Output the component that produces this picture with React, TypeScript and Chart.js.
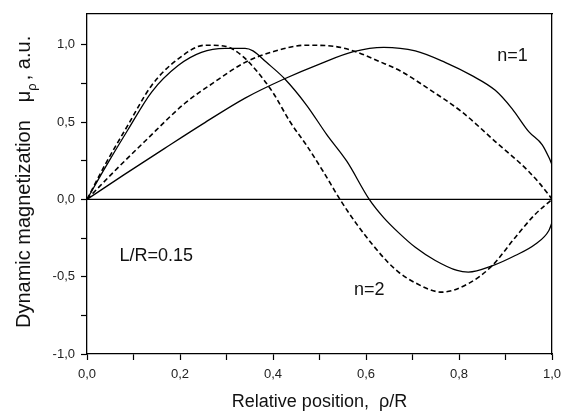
import { useEffect, useRef } from 'react';
import { Chart, registerables } from 'chart.js';
Chart.register(...registerables);

// n=1, solid
const n1SolidX = [0, 0.08, 0.167, 0.25, 0.34, 0.425, 0.5, 0.573, 0.638, 0.706, 0.77, 0.828, 0.878, 0.914, 0.95, 0.979, 0.994, 1.0];
const n1SolidY = [0, 0.16, 0.33, 0.49, 0.655, 0.78, 0.875, 0.955, 0.983, 0.96, 0.886, 0.8, 0.705, 0.587, 0.438, 0.353, 0.267, 0.224];
// n=1, dashed
const n1DashX = [0, 0.06, 0.124, 0.21, 0.27, 0.34, 0.4, 0.472, 0.53, 0.573, 0.63, 0.674, 0.734, 0.806, 0.878, 0.95, 0.993, 1.0];
const n1DashY = [0, 0.185, 0.374, 0.62, 0.75, 0.886, 0.955, 0.997, 0.99, 0.96, 0.89, 0.83, 0.716, 0.566, 0.374, 0.18, 0.03, 0];
// n=2, dashed
const n2DashX = [0, 0.04, 0.088, 0.139, 0.196, 0.254, 0.297, 0.333, 0.365, 0.4, 0.437, 0.472, 0.508, 0.544, 0.58, 0.616, 0.645, 0.67, 0.706, 0.763, 0.82, 0.871, 0.921, 0.964, 1.0];
const n2DashY = [0, 0.23, 0.48, 0.737, 0.908, 0.997, 0.99, 0.93, 0.83, 0.69, 0.5, 0.35, 0.18, 0, -0.16, -0.3, -0.4, -0.47, -0.54, -0.6, -0.545, -0.43, -0.246, -0.096, 0];
// n=2, solid
const n2SolidX = [0, 0.04, 0.088, 0.139, 0.196, 0.246, 0.297, 0.34, 0.357, 0.386, 0.425, 0.472, 0.516, 0.559, 0.607, 0.638, 0.67, 0.706, 0.749, 0.796, 0.82, 0.871, 0.921, 0.964, 0.993, 1.0];
const n2SolidY = [0, 0.21, 0.45, 0.694, 0.865, 0.95, 0.976, 0.976, 0.96, 0.886, 0.78, 0.61, 0.417, 0.245, 0, -0.118, -0.215, -0.31, -0.395, -0.46, -0.47, -0.43, -0.363, -0.29, -0.203, -0.15];
// zero reference line
const zeroLineX = [0, 1];
const zeroLineY = [0, 0];

const xTickValues = [0, 0.2, 0.4, 0.6, 0.8, 1.0];
const xTickLabels = ['0,0', '0,2', '0,4', '0,6', '0,8', '1,0'];
const yTickValues = [-1, -0.5, 0, 0.5, 1.0];
const yTickLabels = ['-1,0', '-0,5', '0,0', '0,5', '1,0'];

const FONT = '"Liberation Sans", Arial, Helvetica, sans-serif';

const pts = (xs: number[], ys: number[]) => xs.map((x, i) => ({ x, y: ys[i] }));
const labelFor = (vals: number[], labels: string[]) => (v: any) => {
  const i = vals.findIndex((t) => Math.abs(t - Number(v)) < 1e-6);
  return i >= 0 ? labels[i] : '';
};

const textPlugin = {
  id: 'texts',
  afterDraw(chart: any) {
    const ctx = chart.ctx;
    const ca = chart.chartArea;
    const xs = chart.scales.x;
    const ys = chart.scales.y;
    ctx.save();
    ctx.fillStyle = '#111';
    ctx.textBaseline = 'middle';
    // annotations
    ctx.font = `18px ${FONT}`;
    ctx.textAlign = 'center';
    ctx.fillText('n=1', xs.getPixelForValue(0.915), ys.getPixelForValue(0.93));
    ctx.fillText('n=2', xs.getPixelForValue(0.607), ys.getPixelForValue(-0.588));
    ctx.fillText('L/R=0.15', xs.getPixelForValue(0.149), ys.getPixelForValue(-0.367));
    // x title
    const xt1 = 'Relative position,';
    const xt2 = 'ρ/R';
    const gap = 10;
    const w1 = ctx.measureText(xt1).width;
    const w2 = ctx.measureText(xt2).width;
    const cx = (ca.left + ca.right) / 2;
    const sx = cx - (w1 + gap + w2) / 2;
    ctx.textAlign = 'left';
    ctx.fillText(xt1, sx, 402);
    ctx.fillText(xt2, sx + w1 + gap, 402);
    // y title (rotated, with subscript)
    ctx.translate(24, 0);
    ctx.rotate(-Math.PI / 2);
    const main = 'Dynamic magnetization';
    const mu = 'μ';
    const sub = 'ρ';
    const tail = ', a.u.';
    const big = 20;
    ctx.font = `${big}px ${FONT}`;
    const wm = ctx.measureText(main).width;
    const wmu = ctx.measureText(mu).width;
    const wt = ctx.measureText(tail).width;
    ctx.font = `13px ${FONT}`;
    const ws = ctx.measureText(sub).width;
    const g2 = 18;
    const g3 = 3;
    const total = wm + g2 + wmu + ws + g3 + wt;
    const cy = (ca.top + ca.bottom) / 2 - 2;
    let px = -(cy + total / 2);
    ctx.font = `${big}px ${FONT}`;
    ctx.fillText(main, px, 0);
    px += wm + g2;
    ctx.fillText(mu, px, 0);
    px += wmu;
    ctx.font = `13px ${FONT}`;
    ctx.fillText(sub, px, 8);
    px += ws + g3;
    ctx.font = `${big}px ${FONT}`;
    ctx.fillText(tail, px, 0);
    ctx.restore();
  },
};

export default function App() {
  const ref = useRef<HTMLCanvasElement | null>(null);
  useEffect(() => {
    if (!ref.current) return;
    const solid = { borderColor: '#000', borderWidth: 1.3, pointRadius: 0, fill: false, cubicInterpolationMode: 'monotone' as const };
    const dashed = { ...solid, borderWidth: 1.6, borderDash: [5, 3] };
    const chart = new Chart(ref.current, {
      type: 'line',
      data: {
        datasets: [
          { ...solid, data: pts(zeroLineX, zeroLineY), cubicInterpolationMode: 'default' as const, tension: 0 },
          { ...solid, data: pts(n1SolidX, n1SolidY) },
          { ...dashed, data: pts(n1DashX, n1DashY) },
          { ...dashed, data: pts(n2DashX, n2DashY) },
          { ...solid, data: pts(n2SolidX, n2SolidY) },
        ] as any,
      },
      options: {
        animation: false,
        responsive: false,
        maintainAspectRatio: false,
        layout: { padding: { left: 0, top: 12, right: 17, bottom: 0 } },
        plugins: { legend: { display: false }, tooltip: { enabled: false } },
        elements: { point: { radius: 0 } },
        scales: {
          x: {
            type: 'linear', position: 'bottom', min: 0, max: 1,
            ticks: { stepSize: 0.1, autoSkip: false, maxRotation: 0, includeBounds: false, callback: labelFor(xTickValues, xTickLabels), color: '#222', font: { family: FONT, size: 13 }, padding: 7 },
            grid: { drawOnChartArea: false, drawTicks: true, tickLength: 6, tickColor: '#000', tickWidth: 1.2 },
            border: { color: '#000', width: 1.3 },
            afterFit: (s: any) => { s.height = 57; },
          },
          y: {
            type: 'linear', position: 'left', min: -1, max: 1.2,
            ticks: { stepSize: 0.25, autoSkip: false, includeBounds: false, callback: labelFor(yTickValues, yTickLabels), color: '#222', font: { family: FONT, size: 13 }, padding: 6 },
            grid: { drawOnChartArea: false, drawTicks: true, tickLength: 6, tickColor: '#000', tickWidth: 1.2 },
            border: { color: '#000', width: 1.3 },
            afterFit: (s: any) => { s.width = 87; },
          },
          x2: {
            type: 'linear', position: 'top', min: 0, max: 1,
            ticks: { display: false },
            grid: { drawOnChartArea: false, drawTicks: false },
            border: { color: '#000', width: 1.3 },
            afterFit: (s: any) => { s.height = 0; },
          },
          y2: {
            type: 'linear', position: 'right', min: -1, max: 1.2,
            ticks: { display: false },
            grid: { drawOnChartArea: false, drawTicks: false },
            border: { color: '#000', width: 1.3 },
            afterFit: (s: any) => { s.width = 0; },
          },
        },
      } as any,
      plugins: [textPlugin],
    });
    return () => chart.destroy();
  }, []);
  return (
    <div style={{ position: 'absolute', left: 0, top: 0, width: 569, height: 411, background: '#fff' }}>
      <canvas ref={ref} width={569} height={411} style={{ display: 'block', width: 569, height: 411 }} />
    </div>
  );
}
